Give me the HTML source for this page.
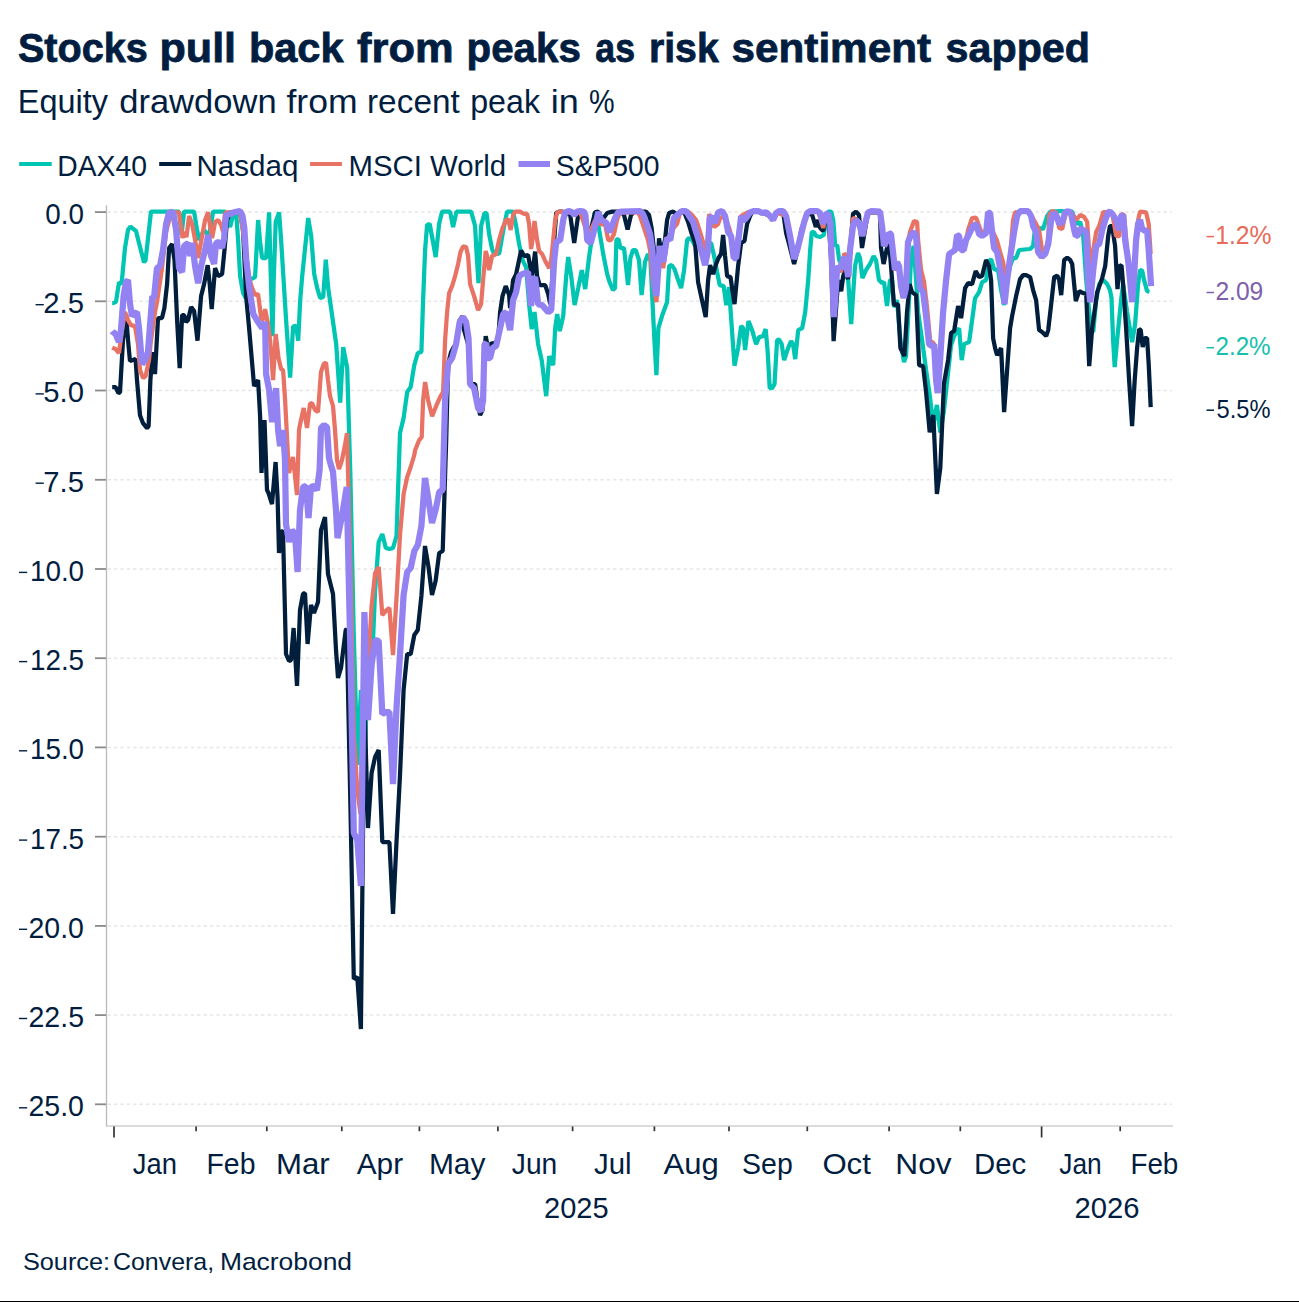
<!DOCTYPE html>
<html><head><meta charset="utf-8"><title>Stocks pull back from peaks as risk sentiment sapped</title>
<style>html,body{margin:0;padding:0;background:#fff;}body{width:1299px;height:1302px;overflow:hidden;}svg{display:block;}text{font-family:"Liberation Sans",sans-serif;fill:#011e41;}</style></head><body>
<svg width="1299" height="1302" viewBox="0 0 1299 1302">
<rect width="1299" height="1302" fill="#fff"/>
<text x="17.89" y="62.3" font-size="41.0" font-weight="bold" stroke="#011e41" stroke-width="0.8" textLength="129.83" lengthAdjust="spacingAndGlyphs">Stocks</text>
<text x="159.48" y="62.3" font-size="41.0" font-weight="bold" stroke="#011e41" stroke-width="0.8" textLength="76.64" lengthAdjust="spacingAndGlyphs">pull</text>
<text x="248.96" y="62.3" font-size="41.0" font-weight="bold" stroke="#011e41" stroke-width="0.8" textLength="94.53" lengthAdjust="spacingAndGlyphs">back</text>
<text x="357.10" y="62.3" font-size="41.0" font-weight="bold" stroke="#011e41" stroke-width="0.8" textLength="96.52" lengthAdjust="spacingAndGlyphs">from</text>
<text x="466.61" y="62.3" font-size="41.0" font-weight="bold" stroke="#011e41" stroke-width="0.8" textLength="114.24" lengthAdjust="spacingAndGlyphs">peaks</text>
<text x="595.34" y="62.3" font-size="41.0" font-weight="bold" stroke="#011e41" stroke-width="0.8" textLength="39.65" lengthAdjust="spacingAndGlyphs">as</text>
<text x="648.94" y="62.3" font-size="41.0" font-weight="bold" stroke="#011e41" stroke-width="0.8" textLength="69.80" lengthAdjust="spacingAndGlyphs">risk</text>
<text x="731.57" y="62.3" font-size="41.0" font-weight="bold" stroke="#011e41" stroke-width="0.8" textLength="199.43" lengthAdjust="spacingAndGlyphs">sentiment</text>
<text x="945.61" y="62.3" font-size="41.0" font-weight="bold" stroke="#011e41" stroke-width="0.8" textLength="144.35" lengthAdjust="spacingAndGlyphs">sapped</text>
<text x="17.76" y="112.8" font-size="33.5" textLength="90.24" lengthAdjust="spacingAndGlyphs">Equity</text>
<text x="119.22" y="112.8" font-size="33.5" textLength="157.38" lengthAdjust="spacingAndGlyphs">drawdown</text>
<text x="286.48" y="112.8" font-size="33.5" textLength="71.14" lengthAdjust="spacingAndGlyphs">from</text>
<text x="367.01" y="112.8" font-size="33.5" textLength="92.79" lengthAdjust="spacingAndGlyphs">recent</text>
<text x="470.20" y="112.8" font-size="33.5" textLength="69.80" lengthAdjust="spacingAndGlyphs">peak</text>
<text x="550.80" y="112.8" font-size="33.5" textLength="28.10" lengthAdjust="spacingAndGlyphs">in</text>
<text x="588.96" y="112.8" font-size="33.5" textLength="25.61" lengthAdjust="spacingAndGlyphs">%</text>
<text x="57.29" y="175.8" font-size="29.4" textLength="89.64" lengthAdjust="spacingAndGlyphs">DAX40</text>
<text x="196.52" y="175.8" font-size="29.4" textLength="101.95" lengthAdjust="spacingAndGlyphs">Nasdaq</text>
<text x="348.55" y="175.8" font-size="29.4" textLength="157.64" lengthAdjust="spacingAndGlyphs">MSCI World</text>
<text x="555.78" y="175.8" font-size="29.4" textLength="103.81" lengthAdjust="spacingAndGlyphs">S&amp;P500</text>
<text x="45.33" y="223.9" font-size="29.1" textLength="38.65" lengthAdjust="spacingAndGlyphs">0.0</text>
<text x="43.36" y="313.1" font-size="29.1" textLength="40.65" lengthAdjust="spacingAndGlyphs">2.5</text>
<text x="43.34" y="402.3" font-size="29.1" textLength="40.67" lengthAdjust="spacingAndGlyphs">5.0</text>
<text x="43.36" y="491.6" font-size="29.1" textLength="40.65" lengthAdjust="spacingAndGlyphs">7.5</text>
<text x="29.95" y="580.8" font-size="29.1" textLength="54.15" lengthAdjust="spacingAndGlyphs">10.0</text>
<text x="29.95" y="670.0" font-size="29.1" textLength="54.15" lengthAdjust="spacingAndGlyphs">12.5</text>
<text x="29.95" y="759.2" font-size="29.1" textLength="54.15" lengthAdjust="spacingAndGlyphs">15.0</text>
<text x="29.95" y="848.5" font-size="29.1" textLength="54.15" lengthAdjust="spacingAndGlyphs">17.5</text>
<text x="28.53" y="937.7" font-size="29.1" textLength="55.43" lengthAdjust="spacingAndGlyphs">20.0</text>
<text x="28.53" y="1026.9" font-size="29.1" textLength="55.46" lengthAdjust="spacingAndGlyphs">22.5</text>
<text x="28.53" y="1116.1" font-size="29.1" textLength="55.43" lengthAdjust="spacingAndGlyphs">25.0</text>
<text x="132.73" y="1174.0" font-size="29.4" textLength="44.19" lengthAdjust="spacingAndGlyphs">Jan</text>
<text x="206.50" y="1174.0" font-size="29.4" textLength="48.94" lengthAdjust="spacingAndGlyphs">Feb</text>
<text x="276.03" y="1174.0" font-size="29.4" textLength="53.72" lengthAdjust="spacingAndGlyphs">Mar</text>
<text x="356.74" y="1174.0" font-size="29.4" textLength="46.41" lengthAdjust="spacingAndGlyphs">Apr</text>
<text x="428.93" y="1174.0" font-size="29.4" textLength="56.55" lengthAdjust="spacingAndGlyphs">May</text>
<text x="511.85" y="1174.0" font-size="29.4" textLength="45.45" lengthAdjust="spacingAndGlyphs">Jun</text>
<text x="593.98" y="1174.0" font-size="29.4" textLength="37.62" lengthAdjust="spacingAndGlyphs">Jul</text>
<text x="663.53" y="1174.0" font-size="29.4" textLength="55.20" lengthAdjust="spacingAndGlyphs">Aug</text>
<text x="742.09" y="1174.0" font-size="29.4" textLength="50.66" lengthAdjust="spacingAndGlyphs">Sep</text>
<text x="822.40" y="1174.0" font-size="29.4" textLength="48.47" lengthAdjust="spacingAndGlyphs">Oct</text>
<text x="895.38" y="1174.0" font-size="29.4" textLength="56.32" lengthAdjust="spacingAndGlyphs">Nov</text>
<text x="974.06" y="1174.0" font-size="29.4" textLength="52.20" lengthAdjust="spacingAndGlyphs">Dec</text>
<text x="1059.31" y="1174.0" font-size="29.4" textLength="42.45" lengthAdjust="spacingAndGlyphs">Jan</text>
<text x="1130.39" y="1174.0" font-size="29.4" textLength="47.99" lengthAdjust="spacingAndGlyphs">Feb</text>
<text x="544.03" y="1217.6" font-size="28.8" textLength="64.56" lengthAdjust="spacingAndGlyphs">2025</text>
<text x="1074.59" y="1217.6" font-size="28.8" textLength="65.02" lengthAdjust="spacingAndGlyphs">2026</text>
<text x="1215.25" y="243.9" font-size="24.9" style="fill:#e96a58" textLength="56.34" lengthAdjust="spacingAndGlyphs">1.2%</text>
<text x="1215.39" y="299.8" font-size="24.9" style="fill:#7d60ab" textLength="47.94" lengthAdjust="spacingAndGlyphs">2.09</text>
<text x="1215.47" y="355.0" font-size="24.9" style="fill:#16bfad" textLength="55.16" lengthAdjust="spacingAndGlyphs">2.2%</text>
<text x="1216.46" y="417.5" font-size="24.9" style="fill:#011e41" textLength="53.99" lengthAdjust="spacingAndGlyphs">5.5%</text>
<text x="22.91" y="1269.8" font-size="24.8" textLength="87.24" lengthAdjust="spacingAndGlyphs">Source:</text>
<text x="112.96" y="1269.8" font-size="24.8" textLength="101.13" lengthAdjust="spacingAndGlyphs">Convera,</text>
<text x="219.94" y="1269.8" font-size="24.8" textLength="132.12" lengthAdjust="spacingAndGlyphs">Macrobond</text>
<line x1="19.2" x2="51.7" y1="164" y2="164" stroke="#00c5b3" stroke-width="4"/>
<line x1="159.2" x2="191.3" y1="164" y2="164" stroke="#011e3d" stroke-width="4"/>
<line x1="310.1" x2="341.9" y1="164" y2="164" stroke="#e87264" stroke-width="4"/>
<line x1="518.5" x2="550.0" y1="164" y2="164" stroke="#9382f2" stroke-width="6"/>
<line x1="107.5" x2="1172.0" y1="212.1" y2="212.1" stroke="#e6e6e6" stroke-width="1.5" stroke-dasharray="3.4 3"/>
<line x1="95" x2="106.5" y1="212.1" y2="212.1" stroke="#8a8a8a" stroke-width="1.8"/>
<line x1="107.5" x2="1172.0" y1="301.3" y2="301.3" stroke="#e6e6e6" stroke-width="1.5" stroke-dasharray="3.4 3"/>
<line x1="95" x2="106.5" y1="301.3" y2="301.3" stroke="#8a8a8a" stroke-width="1.8"/>
<line x1="35.6" x2="43.8" y1="304.7" y2="304.7" stroke="#011e41" stroke-width="1.4"/>
<line x1="107.5" x2="1172.0" y1="390.5" y2="390.5" stroke="#e6e6e6" stroke-width="1.5" stroke-dasharray="3.4 3"/>
<line x1="95" x2="106.5" y1="390.5" y2="390.5" stroke="#8a8a8a" stroke-width="1.8"/>
<line x1="35.6" x2="43.8" y1="393.9" y2="393.9" stroke="#011e41" stroke-width="1.4"/>
<line x1="107.5" x2="1172.0" y1="479.8" y2="479.8" stroke="#e6e6e6" stroke-width="1.5" stroke-dasharray="3.4 3"/>
<line x1="95" x2="106.5" y1="479.8" y2="479.8" stroke="#8a8a8a" stroke-width="1.8"/>
<line x1="35.6" x2="43.8" y1="483.2" y2="483.2" stroke="#011e41" stroke-width="1.4"/>
<line x1="107.5" x2="1172.0" y1="569.0" y2="569.0" stroke="#e6e6e6" stroke-width="1.5" stroke-dasharray="3.4 3"/>
<line x1="95" x2="106.5" y1="569.0" y2="569.0" stroke="#8a8a8a" stroke-width="1.8"/>
<line x1="19.0" x2="27.2" y1="572.4" y2="572.4" stroke="#011e41" stroke-width="1.4"/>
<line x1="107.5" x2="1172.0" y1="658.2" y2="658.2" stroke="#e6e6e6" stroke-width="1.5" stroke-dasharray="3.4 3"/>
<line x1="95" x2="106.5" y1="658.2" y2="658.2" stroke="#8a8a8a" stroke-width="1.8"/>
<line x1="19.0" x2="27.2" y1="661.6" y2="661.6" stroke="#011e41" stroke-width="1.4"/>
<line x1="107.5" x2="1172.0" y1="747.4" y2="747.4" stroke="#e6e6e6" stroke-width="1.5" stroke-dasharray="3.4 3"/>
<line x1="95" x2="106.5" y1="747.4" y2="747.4" stroke="#8a8a8a" stroke-width="1.8"/>
<line x1="19.0" x2="27.2" y1="750.8" y2="750.8" stroke="#011e41" stroke-width="1.4"/>
<line x1="107.5" x2="1172.0" y1="836.7" y2="836.7" stroke="#e6e6e6" stroke-width="1.5" stroke-dasharray="3.4 3"/>
<line x1="95" x2="106.5" y1="836.7" y2="836.7" stroke="#8a8a8a" stroke-width="1.8"/>
<line x1="19.0" x2="27.2" y1="840.1" y2="840.1" stroke="#011e41" stroke-width="1.4"/>
<line x1="107.5" x2="1172.0" y1="925.9" y2="925.9" stroke="#e6e6e6" stroke-width="1.5" stroke-dasharray="3.4 3"/>
<line x1="95" x2="106.5" y1="925.9" y2="925.9" stroke="#8a8a8a" stroke-width="1.8"/>
<line x1="19.0" x2="27.2" y1="929.3" y2="929.3" stroke="#011e41" stroke-width="1.4"/>
<line x1="107.5" x2="1172.0" y1="1015.1" y2="1015.1" stroke="#e6e6e6" stroke-width="1.5" stroke-dasharray="3.4 3"/>
<line x1="95" x2="106.5" y1="1015.1" y2="1015.1" stroke="#8a8a8a" stroke-width="1.8"/>
<line x1="19.0" x2="27.2" y1="1018.5" y2="1018.5" stroke="#011e41" stroke-width="1.4"/>
<line x1="107.5" x2="1172.0" y1="1104.3" y2="1104.3" stroke="#e6e6e6" stroke-width="1.5" stroke-dasharray="3.4 3"/>
<line x1="95" x2="106.5" y1="1104.3" y2="1104.3" stroke="#8a8a8a" stroke-width="1.8"/>
<line x1="19.0" x2="27.2" y1="1107.8" y2="1107.8" stroke="#011e41" stroke-width="1.4"/>
<line x1="106.5" x2="106.5" y1="205.3" y2="1126.7" stroke="#b9b9b9" stroke-width="1.3"/>
<line x1="105.9" x2="1173.0" y1="1126.0" y2="1126.0" stroke="#cfcfcf" stroke-width="1.6"/>
<line x1="114.0" x2="114.0" y1="1126.5" y2="1137.5" stroke="#333" stroke-width="1.7"/>
<line x1="196.1" x2="196.1" y1="1126.5" y2="1131.2" stroke="#333" stroke-width="1.7"/>
<line x1="266.8" x2="266.8" y1="1126.5" y2="1131.2" stroke="#333" stroke-width="1.7"/>
<line x1="341.8" x2="341.8" y1="1126.5" y2="1131.2" stroke="#333" stroke-width="1.7"/>
<line x1="419.4" x2="419.4" y1="1126.5" y2="1131.2" stroke="#333" stroke-width="1.7"/>
<line x1="497.9" x2="497.9" y1="1126.5" y2="1131.2" stroke="#333" stroke-width="1.7"/>
<line x1="572.6" x2="572.6" y1="1126.5" y2="1131.2" stroke="#333" stroke-width="1.7"/>
<line x1="654.4" x2="654.4" y1="1126.5" y2="1131.2" stroke="#333" stroke-width="1.7"/>
<line x1="729.0" x2="729.0" y1="1126.5" y2="1131.2" stroke="#333" stroke-width="1.7"/>
<line x1="807.3" x2="807.3" y1="1126.5" y2="1131.2" stroke="#333" stroke-width="1.7"/>
<line x1="889.1" x2="889.1" y1="1126.5" y2="1131.2" stroke="#333" stroke-width="1.7"/>
<line x1="960.3" x2="960.3" y1="1126.5" y2="1131.2" stroke="#333" stroke-width="1.7"/>
<line x1="1041.6" x2="1041.6" y1="1126.5" y2="1137.5" stroke="#333" stroke-width="1.7"/>
<line x1="1120.2" x2="1120.2" y1="1126.5" y2="1131.2" stroke="#333" stroke-width="1.7"/>
<polyline fill="none" stroke="#00c5b3" stroke-width="4.25" stroke-linejoin="bevel" stroke-linecap="butt" points="112.2,303.1 113.0,303.1 116.0,301.7 119.0,282.5 121.6,283.7 125.0,248.0 128.0,230.0 130.4,226.6 136.0,231.0 139.0,243.0 144.0,262.4 145.6,260.0 151.0,211.6 179.1,211.6 181.5,235.0 184.1,211.6 194.1,211.6 196.5,227.0 199.1,240.0 204.1,230.0 209.1,236.0 213.1,211.6 225.1,211.6 230.1,227.0 233.1,215.0 236.1,211.6 238.1,240.0 240.1,276.1 243.1,293.1 245.7,298.1 249.1,280.1 255.1,277.1 258.1,220.0 260.1,242.0 262.1,258.0 266.1,258.0 269.1,212.4 270.5,266.1 272.5,336.1 273.7,280.1 275.7,222.0 279.1,212.4 281.1,240.0 286.1,320.1 290.1,377.7 293.1,326.5 296.2,325.7 298.2,340.7 300.2,300.1 302.2,276.1 308.2,218.0 311.2,236.0 314.2,274.1 317.2,288.1 320.2,298.1 323.2,297.1 325.8,259.6 328.2,288.1 332.2,316.1 336.2,344.1 340.2,402.6 343.2,347.1 347.2,368.1 350.3,472.0 353.8,636.0 357.5,765.0 360.9,690.0 364.4,782.0 368.0,647.0 371.6,675.0 375.1,590.0 378.7,542.0 382.3,534.0 385.8,548.0 389.4,549.0 393.0,548.0 396.5,536.0 400.0,433.0 403.6,418.0 407.2,392.0 410.7,387.0 414.3,365.0 417.8,353.0 421.4,352.0 423.1,300.1 425.1,250.0 427.1,225.0 429.7,224.0 432.1,237.0 435.7,257.0 439.1,224.0 442.1,211.6 450.1,211.6 453.1,227.0 456.5,211.6 471.1,211.6 475.1,226.0 476.5,252.0 478.5,283.1 481.1,226.0 484.5,213.0 486.5,213.0 489.1,234.0 492.1,249.0 493.7,253.0 499.1,254.0 504.1,226.0 507.1,211.6 513.1,211.6 516.1,226.0 519.1,244.0 522.5,260.0 526.1,267.1 529.1,304.1 531.7,329.1 534.5,312.1 538.1,344.1 541.7,360.1 546.2,396.2 549.2,356.1 553.2,365.1 555.2,328.1 557.2,314.1 559.8,331.1 563.2,316.1 566.2,276.1 568.2,257.0 571.2,276.1 574.6,305.1 578.2,288.1 581.8,270.1 585.2,289.1 589.2,256.0 592.2,236.0 594.6,212.4 598.2,224.0 603.2,254.0 607.2,274.1 609.6,282.1 613.0,290.1 615.0,288.1 616.4,240.0 618.4,239.0 620.4,248.0 624.0,248.0 626.0,266.1 628.0,285.1 630.4,258.0 633.0,250.0 635.6,250.0 639.0,260.0 641.6,295.1 645.0,262.0 648.0,254.0 650.4,260.0 652.4,300.1 654.4,340.1 656.4,375.1 658.4,328.1 662.0,316.1 667.1,302.1 669.1,266.1 671.7,265.1 674.5,269.1 678.1,280.1 681.1,288.1 684.1,270.1 687.1,240.0 689.1,238.0 692.1,240.0 695.1,246.0 704.1,243.0 711.1,243.0 714.1,256.0 717.1,272.1 719.7,285.1 723.7,286.1 726.3,305.1 729.1,287.1 730.7,312.1 734.5,365.7 738.1,348.1 741.1,326.1 743.1,328.1 745.1,350.1 748.5,321.1 752.1,330.1 756.1,344.1 759.1,337.1 763.1,336.1 765.7,329.1 767.7,352.1 769.7,388.1 772.1,388.1 774.5,384.1 777.1,340.1 779.1,339.7 781.7,344.1 784.1,360.1 788.1,348.1 791.1,341.1 793.1,344.1 795.2,359.1 798.2,330.1 802.2,328.1 805.2,312.1 808.2,280.1 810.2,250.0 811.8,232.0 813.8,232.0 816.2,236.0 820.2,237.0 823.8,235.0 826.2,220.0 828.2,211.6 831.2,211.6 833.2,220.0 835.2,246.0 837.2,245.0 839.2,260.0 842.2,266.1 848.2,280.1 851.2,324.1 855.0,266.1 858.0,253.0 860.0,258.0 862.4,278.1 866.0,270.1 870.0,264.0 873.6,256.0 876.0,260.0 879.0,280.1 882.0,283.1 884.0,282.1 887.0,306.1 890.0,280.1 892.0,280.1 894.0,307.1 897.0,300.1 900.4,340.1 904.0,362.1 906.0,356.1 908.0,320.1 911.0,260.0 913.6,246.0 916.1,280.1 918.1,312.1 922.1,340.1 926.1,370.1 929.7,394.9 933.3,425.0 936.9,405.0 940.3,432.6 943.9,411.0 947.5,377.9 951.1,345.1 954.1,336.1 959.1,328.1 961.7,360.1 964.1,344.1 969.1,342.1 972.1,320.1 975.1,298.1 979.1,292.1 982.1,282.1 986.1,280.1 989.1,262.0 991.1,259.0 994.1,269.1 998.1,270.1 1001.1,290.1 1004.1,305.1 1007.1,280.1 1010.1,266.1 1013.1,258.0 1016.1,258.0 1019.1,250.0 1030.1,249.0 1033.1,246.0 1035.1,228.0 1039.1,228.0 1043.1,229.0 1047.2,216.0 1050.2,211.6 1060.2,211.0 1072.2,211.6 1075.2,220.0 1077.2,224.0 1080.2,222.0 1083.2,236.0 1086.2,280.1 1089.2,312.1 1091.2,330.1 1093.2,332.1 1096.2,300.1 1099.2,284.1 1103.2,280.1 1107.2,284.1 1110.0,290.1 1111.5,298.1 1113.1,340.1 1114.7,367.1 1117.1,340.1 1121.1,300.1 1123.1,284.1 1127.1,312.1 1132.1,342.1 1135.1,324.1 1138.1,284.1 1140.1,270.1 1142.1,270.5 1144.1,280.1 1147.1,291.1 1149.5,291.7"/>
<polyline fill="none" stroke="#011e3d" stroke-width="4.25" stroke-linejoin="bevel" stroke-linecap="butt" points="112.2,387.1 113.0,387.1 115.6,387.1 118.4,393.1 120.0,392.1 123.0,340.1 126.0,314.1 128.0,340.1 130.0,361.1 135.6,359.1 137.0,380.1 140.0,415.2 143.0,423.2 147.0,428.2 148.6,426.2 150.4,380.1 152.4,352.1 155.0,374.1 158.0,318.1 162.0,318.1 164.4,308.1 167.1,284.1 169.1,248.0 172.1,244.0 174.5,260.0 177.1,320.1 179.7,368.1 182.1,315.1 184.1,315.1 186.1,322.1 188.1,320.1 191.1,307.1 194.1,311.1 197.5,340.7 201.1,296.1 204.1,284.1 207.7,265.1 209.7,284.1 211.7,309.1 215.1,268.1 218.1,276.1 222.1,274.1 224.5,250.0 227.1,220.0 230.1,212.4 240.1,211.6 243.1,230.0 246.1,296.1 249.1,328.1 254.1,386.1 258.1,380.1 260.1,416.2 261.5,473.0 264.5,420.0 267.0,490.0 268.5,493.0 272.0,504.0 275.6,462.0 277.6,498.0 279.0,553.0 281.0,531.0 283.0,532.0 286.0,654.0 289.0,661.0 291.0,660.0 293.6,628.0 297.0,686.0 300.0,610.0 303.0,594.0 305.0,593.0 307.6,644.0 311.0,605.0 314.0,613.0 318.0,602.0 321.0,530.0 325.0,517.0 328.0,574.0 333.0,594.0 336.0,650.0 338.0,678.0 341.0,668.0 345.7,630.0 346.7,629.0 350.3,800.0 353.8,979.0 357.3,977.0 360.9,1029.0 364.4,700.0 368.0,828.0 371.6,773.0 375.1,757.0 378.7,750.0 382.3,842.0 385.8,842.0 389.4,842.0 393.0,914.0 396.5,842.0 400.0,775.0 403.6,690.0 407.2,654.0 410.7,654.0 414.3,635.0 417.8,630.0 421.4,596.0 425.0,546.0 428.5,567.0 432.0,595.0 435.6,581.0 439.2,553.0 442.7,551.0 446.2,440.0 448.1,364.1 451.1,352.1 453.1,348.1 456.1,344.1 459.7,320.1 462.5,316.1 464.1,330.1 468.1,344.1 470.1,384.1 475.1,384.1 478.1,404.2 480.1,415.2 482.5,410.2 484.1,360.1 485.7,336.1 488.1,348.1 491.1,343.7 494.1,343.1 498.1,340.1 500.1,312.1 502.5,296.1 505.7,286.1 509.1,295.1 510.1,308.1 513.1,280.1 516.1,274.1 519.1,260.0 521.1,250.4 524.1,256.0 528.1,255.0 530.1,266.1 532.1,276.1 535.1,251.6 537.1,276.1 539.7,285.1 545.2,285.1 548.2,294.1 550.2,304.1 552.2,280.1 554.2,240.0 556.2,213.0 559.2,211.6 562.2,211.6 570.2,215.0 574.2,243.0 578.2,215.0 582.2,211.6 588.2,240.0 595.2,212.0 598.2,211.6 602.2,220.0 607.2,213.0 612.0,211.6 621.0,211.6 624.0,215.0 627.6,229.6 631.0,215.0 634.0,211.6 646.0,211.6 649.0,215.0 651.6,228.0 654.0,250.0 656.4,296.1 659.0,238.4 661.0,250.0 663.0,250.0 665.1,239.0 667.1,220.0 669.1,213.0 673.1,211.6 676.1,214.0 684.1,212.0 688.1,222.0 691.1,232.0 695.1,243.0 698.1,282.1 701.1,296.1 705.7,317.1 708.1,280.1 710.1,265.1 713.1,274.1 716.1,264.0 718.5,258.0 721.1,254.0 723.1,235.0 725.1,256.0 727.1,276.1 730.5,277.1 732.1,288.1 734.5,304.1 738.1,266.1 741.1,243.0 744.5,241.0 747.1,224.0 750.1,216.0 752.1,212.0 760.1,211.6 770.1,216.0 773.1,220.0 776.1,213.0 783.1,211.6 786.1,233.0 790.1,248.0 794.1,264.0 798.2,248.0 801.2,230.0 807.2,213.0 812.2,215.0 815.8,227.0 818.2,220.0 820.2,228.0 823.2,231.0 825.2,220.0 828.2,214.0 831.2,260.0 833.6,341.1 835.2,320.1 838.2,280.1 841.2,291.1 843.2,276.1 845.2,270.1 848.2,279.1 853.0,214.0 856.0,211.6 859.0,215.0 862.0,248.0 865.0,230.0 868.0,212.4 880.0,212.4 881.0,248.0 883.6,264.0 887.0,248.0 889.0,240.0 891.0,266.1 894.0,305.1 898.0,304.1 900.4,348.1 904.4,356.1 907.0,312.1 909.6,284.1 912.0,292.1 916.1,295.1 919.1,365.1 923.1,366.1 926.1,392.1 929.7,432.2 933.3,415.0 936.9,494.0 940.3,468.0 943.9,383.9 948.1,360.1 951.1,333.1 954.1,331.1 958.1,306.1 961.1,318.1 965.1,288.1 968.1,283.1 972.1,284.1 975.7,271.1 979.1,277.1 982.1,276.1 986.1,260.0 989.1,266.1 991.1,280.1 993.1,338.1 995.1,348.1 997.1,355.1 1001.1,348.1 1004.1,412.2 1007.1,370.1 1010.1,328.1 1012.1,316.1 1016.1,296.1 1020.1,279.1 1023.1,275.1 1026.1,275.1 1030.1,277.1 1033.1,290.1 1036.1,300.1 1039.1,330.1 1042.1,332.1 1046.2,336.1 1048.2,330.1 1051.2,304.1 1054.2,277.1 1057.2,275.7 1059.2,280.1 1061.2,295.1 1064.2,260.0 1067.2,257.6 1070.2,260.0 1072.2,264.0 1075.8,301.1 1079.2,291.1 1083.2,293.1 1086.2,294.1 1089.2,366.1 1092.2,328.1 1097.2,292.1 1102.2,278.1 1105.2,266.1 1108.2,236.0 1110.0,226.0 1112.1,226.0 1115.1,246.0 1117.5,289.1 1119.5,266.1 1121.5,265.1 1123.1,284.1 1126.1,328.1 1129.1,380.1 1132.1,426.2 1134.7,380.1 1137.1,348.1 1139.1,329.1 1140.7,330.1 1142.7,347.1 1144.7,338.1 1147.1,338.1 1148.7,364.1 1150.7,407.2"/>
<polyline fill="none" stroke="#e87264" stroke-width="4.25" stroke-linejoin="bevel" stroke-linecap="butt" points="112.2,347.7 113.0,348.1 115.6,349.1 119.0,353.1 122.0,330.1 125.0,312.1 128.0,320.1 131.0,325.1 135.0,326.1 138.0,344.1 140.0,370.1 143.0,378.1 145.6,376.1 149.0,360.1 151.0,340.1 155.0,312.1 157.0,302.1 162.0,268.1 166.1,232.0 171.1,212.4 179.1,212.4 182.5,238.0 184.1,232.0 186.5,237.0 189.1,216.0 192.1,224.0 195.1,240.0 198.1,258.0 202.1,236.0 205.1,220.0 208.1,212.4 210.1,226.0 212.1,238.0 215.1,222.0 218.1,220.0 221.1,225.0 223.1,232.0 225.1,212.4 240.1,212.4 244.1,240.0 249.1,278.1 252.1,288.1 255.1,295.1 258.1,294.1 261.1,318.1 263.1,320.1 265.1,309.1 267.7,322.1 270.1,340.1 273.1,380.1 275.7,334.1 278.5,358.1 281.1,369.1 283.1,370.1 285.1,400.2 288.1,458.2 289.0,473.0 293.0,457.0 297.0,495.0 299.0,430.0 301.0,420.0 303.7,408.0 307.0,428.0 310.0,404.0 312.0,403.0 315.0,410.0 318.0,412.0 321.0,372.0 323.7,364.0 326.0,362.5 328.0,380.0 330.0,396.0 333.0,406.0 335.0,430.0 337.0,460.0 339.0,469.0 342.0,460.0 345.0,445.0 347.0,433.0 350.3,560.0 353.8,735.0 357.3,790.0 360.5,814.0 364.4,640.0 368.0,668.0 371.6,606.0 375.1,573.0 378.7,567.0 382.3,615.0 385.8,611.0 389.4,608.0 393.0,655.0 396.5,598.0 400.0,535.0 403.6,494.0 407.2,477.0 410.7,467.0 414.3,455.0 415.1,450.2 419.1,440.2 421.7,437.2 423.1,400.2 425.1,382.1 428.1,400.2 432.1,416.2 436.1,406.2 440.1,397.2 443.1,392.1 445.1,340.1 447.1,312.1 449.1,293.1 452.1,286.1 455.1,276.1 458.1,264.0 460.5,252.0 463.1,246.4 466.1,247.0 468.1,256.0 470.1,284.1 474.1,296.1 478.1,310.1 481.1,304.1 483.1,280.1 485.7,251.0 487.1,256.0 489.1,270.1 492.1,256.0 496.1,254.0 499.1,240.0 502.5,228.0 506.1,220.0 508.1,219.0 510.7,230.0 513.1,215.0 515.1,211.6 520.1,211.6 524.1,214.0 527.1,213.6 529.1,224.0 531.1,249.0 533.1,236.0 534.5,221.0 537.1,240.0 539.1,251.0 542.1,254.0 545.2,261.0 549.2,268.1 551.2,260.0 553.2,240.0 555.2,220.0 557.2,212.4 559.2,211.6 570.2,212.4 580.2,212.4 588.2,236.0 595.2,220.0 600.2,224.0 605.2,225.0 608.2,240.0 611.0,240.0 614.0,234.0 617.0,220.0 620.0,212.4 638.0,212.4 640.0,216.0 644.0,228.0 648.0,240.0 650.0,250.0 653.0,284.1 656.4,302.1 659.8,250.0 663.2,268.1 666.9,242.0 672.1,230.0 677.1,224.0 680.1,212.4 688.1,211.6 692.1,215.0 696.1,220.0 700.1,232.0 703.1,242.0 705.1,260.0 707.7,240.0 709.1,214.0 714.1,227.0 718.1,224.0 720.1,218.0 725.1,216.0 730.1,231.0 733.7,256.0 738.1,236.0 741.1,216.0 748.1,212.0 760.1,211.6 770.1,216.0 773.1,220.0 776.1,212.4 786.1,216.0 790.1,236.0 794.1,258.0 800.2,238.0 807.2,212.4 818.2,211.6 823.2,228.0 826.2,214.0 830.2,224.0 832.2,270.1 833.8,316.1 837.2,266.1 841.2,272.1 844.2,253.6 847.2,256.0 849.2,276.1 850.0,246.0 853.0,218.0 856.0,219.0 859.0,222.0 862.4,234.0 865.0,222.0 868.0,212.4 880.0,212.0 882.0,226.0 884.0,246.0 887.0,240.0 889.0,233.0 891.0,234.0 893.0,252.0 895.0,270.1 899.0,266.1 901.0,286.1 903.6,296.1 906.0,280.1 908.0,242.0 910.0,232.0 914.0,221.0 917.1,222.0 918.1,240.0 921.1,270.1 924.1,282.1 927.1,308.1 930.1,340.1 934.1,344.1 937.7,390.1 940.1,360.1 943.1,312.1 946.1,280.1 949.1,254.0 955.1,250.0 957.1,235.0 961.1,250.0 966.1,240.0 968.1,230.0 972.1,218.0 976.1,217.6 979.1,226.0 982.1,234.0 986.1,230.0 988.1,212.4 990.1,213.0 992.1,230.0 997.1,241.0 1000.1,252.0 1003.1,262.0 1005.1,276.1 1007.1,280.1 1010.1,256.0 1013.1,220.0 1015.1,212.4 1028.1,211.0 1031.1,215.0 1036.1,224.0 1039.1,230.0 1042.1,250.0 1045.2,252.0 1048.2,240.0 1049.2,215.0 1052.2,211.0 1056.2,212.4 1059.2,228.0 1062.2,229.0 1064.2,220.0 1066.2,212.0 1071.2,212.4 1076.2,220.0 1080.2,215.0 1084.2,217.0 1087.2,222.0 1089.2,252.0 1090.2,300.1 1093.2,250.0 1096.2,232.0 1099.2,226.0 1103.2,212.0 1110.0,212.0 1112.1,212.4 1116.1,236.0 1119.1,236.4 1121.5,214.0 1124.1,215.0 1127.1,250.0 1132.1,300.1 1136.1,240.0 1138.1,220.0 1140.1,211.6 1146.1,212.4 1148.7,224.0 1150.7,254.0"/>
<polyline fill="none" stroke="#9382f2" stroke-width="6.25" stroke-linejoin="bevel" stroke-linecap="butt" points="112.2,331.1 113.0,332.1 115.6,334.1 119.0,342.1 121.0,330.1 123.6,296.1 126.0,282.1 128.0,280.1 130.0,304.1 132.0,316.1 134.0,314.1 137.0,312.1 139.0,328.1 142.0,364.1 145.0,360.1 148.0,352.1 150.4,320.1 152.4,296.1 154.0,298.1 157.0,268.1 160.0,266.1 163.0,250.0 166.1,224.0 169.1,212.4 173.1,212.4 176.1,230.0 179.1,268.1 182.1,272.1 184.1,246.0 188.1,243.0 190.1,256.0 192.1,243.0 195.1,266.1 198.1,283.1 201.1,266.1 205.1,250.0 208.1,235.0 211.1,256.0 214.1,264.0 216.1,243.0 219.1,242.0 222.1,248.0 224.1,238.0 226.1,215.0 230.1,214.0 235.1,212.0 240.1,211.0 242.5,216.0 244.3,228.0 246.3,260.0 249.3,288.1 253.3,314.1 258.1,322.1 262.1,328.1 265.1,322.1 266.1,374.1 269.1,390.1 272.1,422.2 276.1,388.1 278.1,430.2 280.1,446.2 283.1,430.2 285.0,460.0 286.0,524.0 289.0,542.0 292.0,530.0 295.0,534.0 297.6,572.0 300.0,510.0 303.0,487.0 306.0,486.0 308.5,518.0 311.0,487.0 314.0,486.0 317.0,490.0 319.6,470.0 321.0,428.0 324.0,425.0 327.0,427.0 329.0,458.0 330.0,462.0 333.0,472.0 336.0,510.0 337.5,538.0 342.0,516.0 346.7,487.0 350.3,647.0 353.8,833.0 357.3,840.0 360.9,886.0 364.4,612.0 368.0,720.0 371.6,665.0 375.1,640.0 378.7,641.0 382.3,714.0 385.8,712.0 389.4,712.0 393.0,784.0 396.5,708.0 400.0,655.0 403.6,595.0 407.2,572.0 410.7,568.0 414.3,551.0 417.8,545.0 421.4,526.0 425.0,478.0 428.5,500.0 432.0,523.0 435.6,510.0 439.2,492.0 442.7,490.0 445.1,400.2 448.1,364.1 452.1,358.1 456.1,344.1 459.7,322.1 463.1,317.1 466.1,322.1 468.5,338.1 470.1,384.1 474.1,388.1 478.1,408.2 481.1,411.2 483.1,400.2 484.5,344.1 486.1,343.1 488.1,358.1 490.1,358.1 492.5,348.1 496.1,346.1 500.1,328.1 503.1,314.1 506.1,312.1 510.1,330.1 513.1,300.1 516.1,292.1 519.1,276.1 522.1,274.1 525.1,273.1 528.1,272.1 531.1,306.1 533.1,280.1 535.1,277.1 538.1,304.1 542.1,305.1 548.2,312.1 551.2,310.1 554.2,260.0 556.2,242.0 560.2,240.0 563.2,220.0 565.2,212.4 569.2,211.0 572.2,212.4 574.2,215.0 577.2,211.6 580.2,211.0 583.8,211.6 585.4,215.0 587.2,240.0 590.8,243.0 595.4,225.0 598.4,212.0 601.2,220.0 605.2,222.0 606.0,222.0 609.0,232.0 612.0,226.0 615.0,218.0 618.0,212.4 622.0,211.6 640.0,211.0 643.0,214.0 646.0,222.0 650.0,234.0 652.4,250.0 654.4,284.1 656.4,296.1 659.8,246.0 663.2,262.0 666.9,238.0 670.3,240.0 673.9,218.0 677.5,215.0 680.1,212.4 682.1,211.0 686.1,211.0 689.1,216.0 693.1,222.0 698.1,238.0 702.1,254.0 705.1,265.1 707.7,252.0 709.7,218.0 712.1,217.0 715.1,223.0 718.1,212.4 722.1,211.0 725.1,216.0 728.1,232.0 731.1,236.0 733.7,258.0 736.1,258.0 739.1,234.0 741.1,216.0 743.1,221.0 746.1,218.0 750.1,212.4 754.1,211.0 758.1,211.0 762.1,213.0 766.1,212.4 770.1,216.0 773.1,220.0 776.1,213.0 779.1,211.0 783.1,211.0 786.1,216.0 790.1,236.0 794.1,259.0 797.2,250.0 800.2,238.0 804.2,222.0 807.2,213.0 810.2,211.0 817.2,211.0 820.2,213.0 823.2,224.0 825.8,214.0 828.2,213.6 830.2,224.0 832.2,270.1 833.8,317.1 835.2,300.1 837.2,266.1 840.2,269.1 843.2,259.0 845.2,258.0 848.2,277.1 850.0,250.0 853.0,226.0 856.0,220.0 859.0,223.0 862.4,236.0 865.0,224.0 868.0,212.4 872.0,211.0 880.0,211.6 882.0,226.0 884.0,246.0 887.0,240.0 889.0,233.0 891.0,234.0 893.0,252.0 895.0,270.1 897.0,262.0 899.0,266.1 901.0,286.1 903.6,298.1 906.0,288.1 908.0,242.0 911.0,235.0 914.0,232.0 916.1,236.0 918.1,266.1 920.1,288.1 923.1,292.1 926.1,316.1 929.1,344.1 932.1,346.1 934.1,344.1 936.1,380.1 937.7,393.1 940.1,360.1 943.1,312.1 946.1,280.1 949.1,254.0 952.1,252.0 955.1,250.0 957.1,235.0 959.1,236.0 961.1,250.0 963.7,250.0 966.1,240.0 969.1,234.0 973.1,226.0 976.1,224.0 979.1,234.0 982.1,236.0 986.1,233.0 988.1,212.4 990.1,213.0 992.1,232.0 994.1,248.0 997.1,252.0 1000.1,268.1 1003.1,288.1 1004.5,304.1 1007.1,280.1 1010.1,258.0 1014.1,232.0 1017.1,216.0 1020.1,211.0 1028.1,211.0 1031.1,216.0 1033.1,226.0 1036.1,232.0 1038.1,252.0 1041.7,257.0 1045.2,254.0 1048.2,244.0 1051.2,220.0 1053.2,213.0 1056.2,215.0 1059.2,224.0 1062.2,222.0 1065.2,212.4 1068.2,211.0 1071.2,214.0 1074.2,230.0 1075.8,236.0 1078.2,235.0 1080.2,228.0 1083.2,230.0 1086.2,232.0 1088.2,280.1 1090.2,302.1 1093.2,270.1 1096.2,246.0 1099.2,244.0 1102.2,230.0 1105.2,220.0 1108.2,212.4 1110.0,211.6 1113.1,215.0 1116.1,220.0 1119.1,230.0 1121.1,216.0 1123.1,215.0 1125.1,240.0 1128.1,260.0 1130.1,280.1 1132.1,302.1 1134.1,276.1 1136.1,240.0 1138.1,224.0 1140.1,220.0 1142.1,229.0 1145.1,231.0 1147.1,230.0 1148.7,250.0 1151.1,286.1"/>
<line x1="1206.5" x2="1214" y1="236.6" y2="236.6" stroke="#e96a58" stroke-width="1.5"/>
<line x1="1206.5" x2="1214" y1="292.5" y2="292.5" stroke="#7d60ab" stroke-width="1.5"/>
<line x1="1206.5" x2="1214" y1="347.7" y2="347.7" stroke="#16bfad" stroke-width="1.5"/>
<line x1="1206.5" x2="1214" y1="410.2" y2="410.2" stroke="#011e41" stroke-width="1.5"/>
<rect x="0" y="1301" width="1299" height="1" fill="#000"/>
</svg></body></html>
